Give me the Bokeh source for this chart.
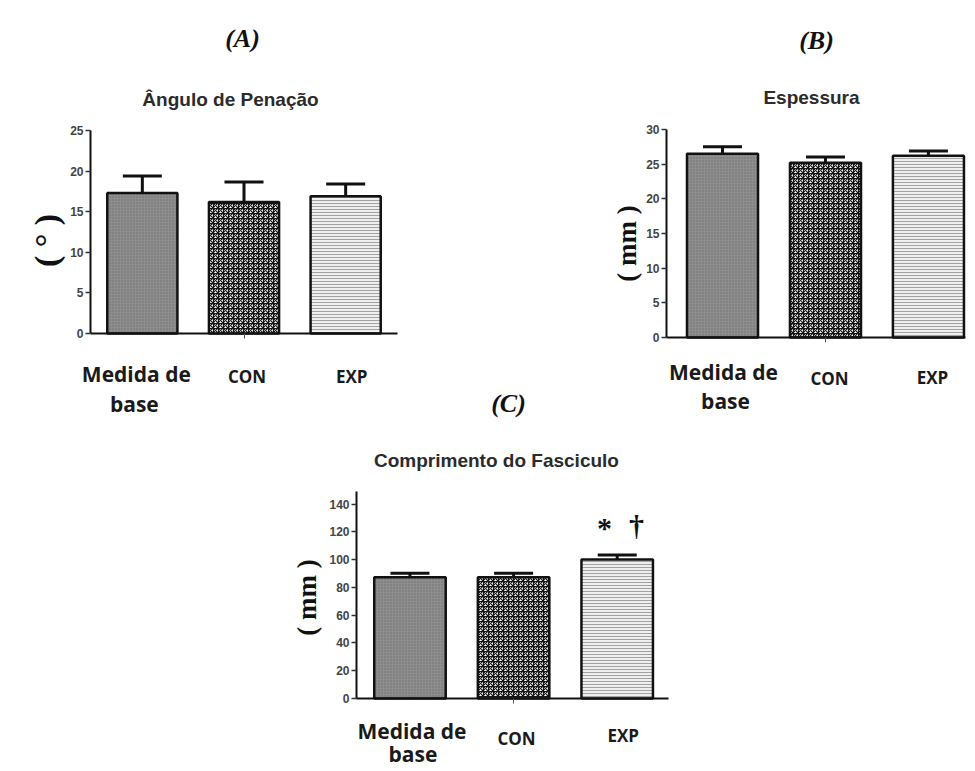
import math
from bokeh.plotting import figure
from bokeh.models import ColumnDataSource, Range1d, FixedTicker, Whisker, TeeHead, Label, Spacer
from bokeh.layouts import row, column
from bokeh.embed import file_html
from bokeh.resources import INLINE

# ---------------- data ----------------
categories = ["Medida de\nbase", "CON", "EXP"]
angle_mean = [17.3, 16.2, 16.9]
angle_sem = [2.1, 2.45, 1.5]
thick_mean = [26.5, 25.2, 26.2]
thick_sem = [1.0, 0.85, 0.7]
fasc_mean = [87.2, 87.2, 100.0]
fasc_sem = [2.9, 2.9, 3.3]
angle_ticks = [0, 5, 10, 15, 20, 25]
thick_ticks = [0, 5, 10, 15, 20, 25, 30]
fasc_ticks = [0, 20, 40, 60, 80, 100, 120, 140]
panel_letters = ["(A)", "(B)", "(C)"]
panel_titles = ["Ângulo de Penação", "Espessura", "Comprimento do Fasciculo"]
unit_labels = ["( ° )", "( mm )", "( mm )"]
signif_marks = ["*", "†"]

# ---------------- styles ----------------
BAR_W = 0.69
bar_styles = [
    dict(fill_color="#8e8e8e", hatch_pattern="dot", hatch_color="#6c6c6c", hatch_scale=3),
    dict(fill_color="white", hatch_pattern="criss_cross", hatch_color="#151515",
         hatch_scale=5, hatch_weight=1.2),
    dict(fill_color="#efefef", hatch_pattern="horizontal_line", hatch_color="#a2a2a2",
         hatch_scale=3, hatch_weight=1),
]
SANS = "Liberation Sans"
SERIF = "Liberation Serif"
CATF = "Open Sans"


class Panel:
    def __init__(self, fig_left, fig_top, W, H, x0, x1, px0, px1, y_end, py_top, py_bot,
                 means, sems, ticks, axis_top=None):
        self.left, self.top, self.W, self.H = fig_left, fig_top, W, H
        sx = (px1 - px0) / (x1 - x0)
        xs = x0 - (px0 - fig_left) / sx
        xe = x1 + (fig_left + W - px1) / sx
        sy = (py_bot - py_top) / y_end
        ys = -(fig_top + H - py_bot) / sy
        ye = y_end + (py_top - fig_top) / sy
        p = figure(x_range=Range1d(xs, xe), y_range=Range1d(ys, ye),
                   frame_width=W, frame_height=H,
                   min_border=0, min_border_left=0, min_border_right=0,
                   min_border_top=0, min_border_bottom=0,
                   output_backend="svg", toolbar_location=None, tools="")
        p.outline_line_color = None
        p.xgrid.visible = False
        p.ygrid.visible = False
        p.background_fill_color = "white"
        p.border_fill_color = "white"
        for i, cat in enumerate(categories):
            src = ColumnDataSource(dict(x=[i], top=[means[i]]))
            p.vbar(x="x", top="top", bottom=0, width=BAR_W, source=src,
                   line_color="#111111", line_width=2.5, **bar_styles[i])
        es = ColumnDataSource(dict(x=list(range(len(categories))), lower=means,
                                   upper=[m + s for m, s in zip(means, sems)]))
        w = Whisker(source=es, base="x", lower="lower", upper="upper", dimension="height",
                    line_color="#111111", line_width=3,
                    upper_head=TeeHead(size=39, line_width=3, line_color="#111111"),
                    lower_head=None)
        p.add_layout(w)
        ya = p.yaxis[0]
        ya.fixed_location = x0
        ya.bounds = (0, axis_top if axis_top is not None else y_end)
        ya.ticker = FixedTicker(ticks=ticks)
        ya.axis_line_width = 2
        ya.axis_line_color = "#111111"
        ya.major_tick_out = 5
        ya.major_tick_in = 0
        ya.major_tick_line_width = 1.5
        ya.major_tick_line_color = "#333333"
        ya.minor_tick_line_color = None
        ya.major_label_text_font = SANS
        ya.major_label_text_font_style = "bold"
        ya.major_label_text_font_size = "12px"
        ya.major_label_text_color = "#444444"
        ya.major_label_standoff = 2
        xa = p.xaxis[0]
        xa.fixed_location = 0
        xa.bounds = (x0, x1)
        xa.ticker = FixedTicker(ticks=[1])
        xa.axis_line_width = 2
        xa.axis_line_color = "#111111"
        xa.major_tick_out = 5
        xa.major_tick_in = 0
        xa.major_tick_line_color = "#555555"
        xa.minor_tick_line_color = None
        xa.major_label_overrides = {1: " "}
        xa.major_label_text_font_size = "8px"
        xa.major_label_text_color = "white"
        self.p = p

    def txt(self, s, px, py, size, font, style="bold", color="#111111", angle=0.0):
        self.p.add_layout(Label(x=px - self.left, y=self.top + self.H - py,
                                x_units="screen", y_units="screen", text=s,
                                text_font=font, text_font_size=size, text_font_style=style,
                                text_color=color, text_align="center",
                                text_baseline="middle", angle=angle))

    def cat_labels(self, specs):
        for i, cat in enumerate(categories):
            lines = cat.split("\n")
            size = "21px" if len(lines) > 1 else "17px"
            for j, line in enumerate(lines):
                dx, py = specs[i][j]
                self.p.add_layout(Label(x=i, x_units="data", x_offset=dx,
                                        y=self.top + self.H - py, y_units="screen",
                                        text=line, text_font=CATF, text_font_size=size,
                                        text_font_style="bold", text_color="#1a1a1a",
                                        text_align="center", text_baseline="middle"))


# ---------------- panel A ----------------
A = Panel(0, 0, 560, 418, -0.51, 2.51, 90, 397, 25, 130, 333,
          angle_mean, angle_sem, angle_ticks)
A.txt(panel_letters[0], 242, 38, "26px", SERIF, "bold italic")
A.txt(panel_titles[0], 230, 99, "19px", SANS, "bold", "#2b2b2b")
A.txt(unit_labels[0], 46, 240, "34px", SERIF, "bold", angle=math.pi / 2)
A.txt(panel_letters[2], 508, 403, "26px", SERIF, "bold italic")
A.cat_labels([[(-6, 373), (-8, 403)], [(3, 376)], [(6, 376)]])

# ---------------- panel B ----------------
B = Panel(560, 0, 407, 418, -0.544, 2.36, 666, 965, 30, 129, 337,
          thick_mean, thick_sem, thick_ticks)
B.txt(panel_letters[1], 816, 40, "26px", SERIF, "bold italic")
B.txt(panel_titles[1], 811, 97, "19px", SANS, "bold", "#2b2b2b")
B.txt(unit_labels[1], 626, 243, "27px", SERIF, "bold", angle=math.pi / 2)
B.cat_labels([[(1, 371), (3, 400)], [(4, 378)], [(4, 377)]])

# ---------------- panel C ----------------
C = Panel(260, 418, 438, 350, -0.516, 2.495, 356, 668, 140, 503.5, 698,
          fasc_mean, fasc_sem, fasc_ticks, axis_top=149)
C.txt(panel_titles[2], 496, 460, "19px", SANS, "bold", "#2b2b2b")
C.txt(unit_labels[2], 306, 597, "27px", SERIF, "bold", angle=math.pi / 2)
C.txt(signif_marks[0], 604, 527, "30px", SERIF, "bold")
C.txt(signif_marks[1], 636, 525, "30px", SERIF, "bold")
C.cat_labels([[(2, 730), (3, 753)], [(3, 738)], [(6, 735)]])

layout = column(row(A.p, B.p), row(Spacer(width=260, height=350), C.p))

open("out.html", "w").write(file_html(layout, INLINE))
